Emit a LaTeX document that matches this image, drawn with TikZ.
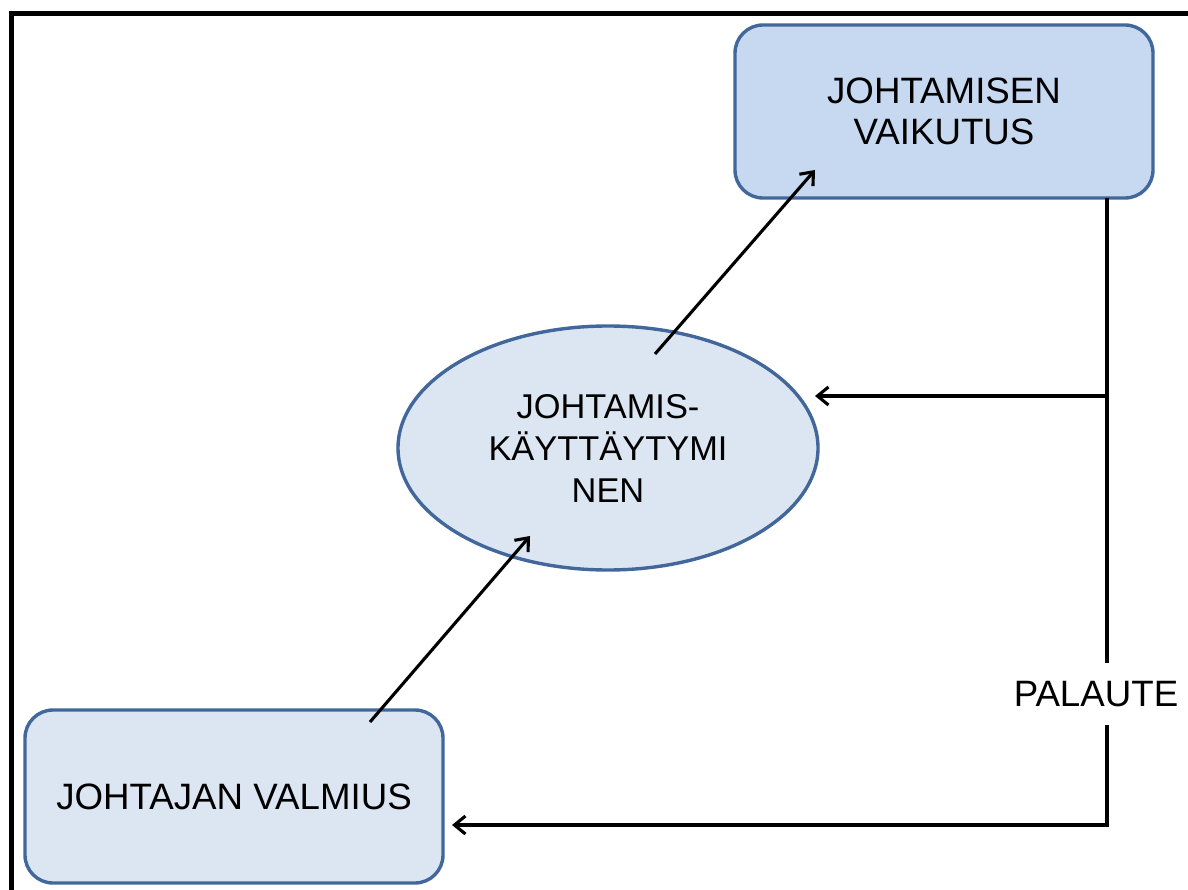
\documentclass[tikz,border=0pt]{standalone}
\usepackage{fontspec}
\setmainfont{Liberation Sans}
\usetikzlibrary{arrows.meta,shapes.geometric,calc}
\definecolor{edgeblue}{HTML}{41679B}
\definecolor{fillA}{HTML}{C6D9F1}
\definecolor{fillB}{HTML}{DCE6F2}
\tikzset{
  boxnode/.style={draw=edgeblue,line width=3.4pt,rounded corners=28pt,minimum width=418pt,minimum height=173pt,align=center,inner sep=0pt},
  ellnode/.style={draw=edgeblue,line width=3.4pt,ellipse,minimum width=420pt,minimum height=244pt,align=center,inner sep=0pt,fill=fillB},
  conn/.style={line width=3.1pt,black},
  arr/.style={conn,-{Straight Barb[length=11pt,width=18pt]}},
  lbl/.style={font=\fontsize{36.7}{41.5}\selectfont},
  elbl/.style={font=\fontsize{34.4}{42}\selectfont}
}
\begin{document}
\begin{tikzpicture}[x=1pt,y=-1pt]
\useasboundingbox (0,0) rectangle (1188,890);
\fill[white] (0,0) rectangle (1188,890);
\draw[line width=5pt,miter limit=10] (11,890) -- (11,14) -- (1188,14);

\node[boxnode,fill=fillA,lbl] (vaikutus) at (944,111.5) {JOHTAMISEN\\VAIKUTUS};
\node[ellnode,elbl] (kaytt) at (608,448) {JOHTAMIS-\\KÄYTTÄYTYMI\\NEN};
\node[boxnode,fill=fillB,lbl] (valmius) at (234,796.5) {JOHTAJAN VALMIUS};
\node[lbl,inner sep=0pt,minimum height=62pt] (palaute) at (1096,694) {PALAUTE};

\coordinate (a1s) at (370,722);
\coordinate (a1e) at (530,536);
\coordinate (a2s) at (655,354);
\coordinate (a2e) at (815,170);
\coordinate (fb0) at (1107,198);
\coordinate (fbm) at (1107,396);
\coordinate (fbmE) at (815,396);
\coordinate (fb1) at (1107,825);
\coordinate (fbE) at (452,825);

\draw[arr] (a1s) -- (a1e);
\draw[arr] (a2s) -- (a2e);
\draw[conn] (fb0) -- (palaute.north -| fb0);
\draw[arr] (fbm) -- (fbmE);
\draw[arr] (palaute.south -| fb0) -- (fb1) -- (fbE);
\end{tikzpicture}
\end{document}
